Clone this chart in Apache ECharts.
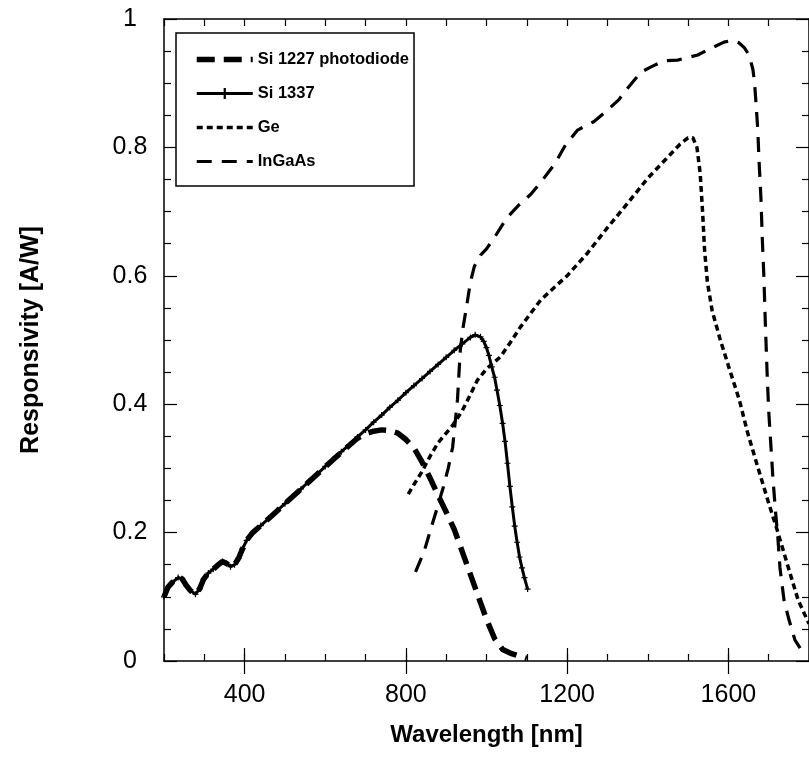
<!DOCTYPE html>
<html>
<head>
<meta charset="utf-8">
<script src="https://cdn.jsdelivr.net/npm/echarts@6/dist/echarts.min.js"></script>
<style>
html, body { margin: 0; padding: 0; background: #fff; }
#chart { width: 809px; height: 778px; }
</style>
</head>
<body>
<div id="chart"></div>
<script>
// wavelength [nm] / responsivity [A/W]
const si1337Wl = [200, 210, 220, 235, 245, 255, 265, 278, 288, 298, 310, 322, 335, 345, 355, 365, 375, 385, 395, 405,
  420, 440, 460, 480, 500, 520, 540, 560, 580, 600, 620, 640, 660, 680, 700, 720, 740, 760, 780, 800, 820, 840, 860, 880, 900, 920, 940, 960, 972, 985,
  993, 1000, 1006, 1013, 1020, 1026, 1033, 1040, 1046, 1052, 1058, 1064, 1070, 1076, 1082, 1088, 1094, 1102];
const si1337R = [0.100, 0.115, 0.122, 0.130, 0.128, 0.118, 0.110, 0.104, 0.112, 0.127, 0.137, 0.143, 0.150, 0.155, 0.152, 0.147, 0.150, 0.160, 0.175, 0.188,
  0.200, 0.211, 0.222, 0.234, 0.245, 0.257, 0.268, 0.280, 0.291, 0.303, 0.314, 0.326, 0.337, 0.349, 0.360, 0.372, 0.383, 0.395, 0.406, 0.418, 0.429, 0.440, 0.451, 0.462, 0.473, 0.484, 0.494, 0.504, 0.508, 0.505,
  0.498, 0.488, 0.476, 0.458, 0.442, 0.422, 0.398, 0.37, 0.342, 0.308, 0.272, 0.24, 0.21, 0.185, 0.162, 0.145, 0.13, 0.112];

const si1227Wl = [200, 210, 220, 235, 245, 255, 265, 278, 288, 298, 310, 322, 335, 345, 355, 365, 375, 385, 395, 405,
  420, 460, 500, 540, 580, 620, 660, 680, 700, 720, 740, 760, 780, 800, 820, 840, 860, 880, 900, 920, 940,
  960, 980, 1000, 1020, 1040, 1060, 1080, 1100];
const si1227R = [0.100, 0.115, 0.122, 0.130, 0.128, 0.118, 0.110, 0.104, 0.112, 0.127, 0.137, 0.143, 0.150, 0.155, 0.152, 0.147, 0.150, 0.160, 0.175, 0.188,
  0.200, 0.222, 0.245, 0.268, 0.291, 0.314, 0.336, 0.347, 0.354, 0.358, 0.360, 0.359, 0.355, 0.345, 0.332, 0.31, 0.285, 0.258, 0.232, 0.205, 0.17,
  0.135, 0.10, 0.065, 0.035, 0.018, 0.012, 0.008, 0.004];

const geWl = [806, 820, 840, 861, 880, 900, 916, 940, 960, 977, 1000, 1035, 1060, 1084, 1110, 1134, 1170, 1200, 1250, 1300,
  1350, 1400, 1450, 1480, 1500, 1512, 1522, 1530, 1536, 1541, 1548, 1560, 1580, 1600, 1627, 1648, 1673, 1698, 1723, 1748, 1773, 1800];
const geR = [0.26, 0.275, 0.295, 0.32, 0.34, 0.355, 0.367, 0.39, 0.415, 0.437, 0.455, 0.474, 0.497, 0.52, 0.542, 0.562, 0.583, 0.60, 0.635, 0.675,
  0.713, 0.752, 0.785, 0.805, 0.815, 0.815, 0.80, 0.76, 0.70, 0.64, 0.59, 0.545, 0.50, 0.46, 0.407, 0.355, 0.302, 0.25, 0.20, 0.147, 0.095, 0.058];

const ingaasWl = [824, 845, 861, 877, 893, 905, 916, 922, 928, 935, 942, 950, 960, 970, 985, 1000, 1020, 1050, 1080, 1110,
  1140, 1170, 1196, 1226, 1266, 1291, 1328, 1350, 1383, 1407, 1440, 1474, 1500, 1524, 1549, 1589, 1611, 1626, 1640, 1648,
  1655, 1661, 1665, 1668, 1673, 1676, 1681, 1684, 1688, 1692, 1696, 1700, 1705, 1710, 1716, 1723, 1728, 1738, 1750, 1765, 1780, 1795];
const ingaasR = [0.139, 0.17, 0.204, 0.237, 0.271, 0.30, 0.333, 0.37, 0.407, 0.484, 0.52, 0.55, 0.59, 0.615, 0.632, 0.642, 0.66, 0.69, 0.71, 0.727,
  0.75, 0.775, 0.804, 0.827, 0.84, 0.853, 0.874, 0.892, 0.917, 0.925, 0.935, 0.936, 0.94, 0.944, 0.952, 0.964, 0.967, 0.963, 0.955, 0.947,
  0.935, 0.921, 0.90, 0.874, 0.827, 0.78, 0.718, 0.66, 0.60, 0.52, 0.45, 0.39, 0.34, 0.29, 0.24, 0.19, 0.145, 0.095, 0.065, 0.033, 0.018, 0.01];

const xMajor = [400, 800, 1200, 1600];

const font = "'Liberation Sans', Arial, sans-serif";
const black = '#000';

function pairs(xs, ys) {
  return xs.map((x, i) => [x, ys[i]]);
}

const styles = {
  'Si 1227 photodiode': { color: black, width: 5.5, type: [18, 9] },
  'Si 1337': { color: black, width: 3, type: 'solid' },
  'Ge': { color: black, width: 3.5, type: [6, 4] },
  'InGaAs': { color: black, width: 3.2, type: [15, 10] }
};
const plus = 'path://M-1,-5L1,-5L1,-1L5,-1L5,1L1,1L1,5L-1,5L-1,1L-5,1L-5,-1L-1,-1Z';

const chart = echarts.init(document.getElementById('chart'));

const minorAxis = (pos) => ({
  type: 'value', position: pos, min: 200, max: 1800, interval: 100,
  axisLine: { show: true, onZero: false, lineStyle: { color: black, width: 1.5 } },
  axisTick: { show: true, inside: true, length: 7, lineStyle: { color: black, width: 1.2 } },
  axisLabel: { show: false },
  splitLine: { show: false }
});
const majorAxis = (pos, labels) => ({
  type: 'value', position: pos, min: 200, max: 1800,
  axisLine: { show: false },
  axisTick: { show: true, inside: true, length: 13, customValues: xMajor, lineStyle: { color: black, width: 1.2 } },
  axisLabel: { show: labels, customValues: xMajor, formatter: v => String(v), fontFamily: font, fontSize: 25, color: black, margin: 22 },
  splitLine: { show: false }
});

const yAxisDef = (pos, labels) => ({
  type: 'value', position: pos, min: 0, max: 1, interval: 0.2,
  axisLine: { show: true, onZero: false, lineStyle: { color: black, width: 1.5 } },
  axisTick: { show: true, inside: true, length: 13, lineStyle: { color: black, width: 1.2 } },
  minorTick: { show: true, splitNumber: 4, length: 7, lineStyle: { color: black, width: 1.2 } },
  axisLabel: { show: labels, fontFamily: font, fontSize: 25, color: black, margin: 34, align: 'center', showMinLabel: true, showMaxLabel: true },
  splitLine: { show: false },
  minorSplitLine: { show: false }
});

const bottomMajor = majorAxis('bottom', true);
bottomMajor.name = 'Wavelength [nm]';
bottomMajor.nameLocation = 'middle';
bottomMajor.nameGap = 62;
bottomMajor.nameTextStyle = { fontFamily: font, fontWeight: 'bold', fontSize: 24, color: black };

const leftY = yAxisDef('left', true);
leftY.name = 'Responsivity [A/W]';
leftY.nameLocation = 'middle';
leftY.nameGap = 120;
leftY.nameTextStyle = { fontFamily: font, fontWeight: 'bold', fontSize: 25, color: black };

const seriesNames = ['Si 1227 photodiode', 'Si 1337', 'Ge', 'InGaAs'];
const seriesData = [pairs(si1227Wl, si1227R), pairs(si1337Wl, si1337R), pairs(geWl, geR), pairs(ingaasWl, ingaasR)];

chart.setOption({
  animation: false,
  backgroundColor: '#fff',
  grid: { left: 164, right: 0, top: 19, bottom: 117, containLabel: false, outerBoundsMode: 'none' },
  xAxis: [minorAxis('bottom'), bottomMajor, minorAxis('top'), majorAxis('top', false)],
  yAxis: [leftY, yAxisDef('right', false)],
  legend: {
    orient: 'vertical', left: 176, top: 33,
    padding: [18, 5, 16, 18],
    itemGap: 17, itemWidth: 56, itemHeight: 14,
    borderColor: black, borderWidth: 1.5, backgroundColor: '#fff',
    textStyle: { fontFamily: font, fontWeight: 'bold', fontSize: 16.5, color: black },
    data: seriesNames.map(n => ({
      name: n,
      lineStyle: styles[n],
      itemStyle: n === 'Si 1337' ? { color: black } : { opacity: 0 }
    }))
  },
  series: seriesNames.map((n, i) => ({
    name: n,
    type: 'line',
    xAxisIndex: 0,
    yAxisIndex: 0,
    data: seriesData[i],
    showSymbol: n === 'Si 1337',
    showAllSymbol: true,
    symbol: n === 'Si 1337' ? plus : 'none',
    symbolSize: 6,
    itemStyle: { color: black },
    lineStyle: styles[n],
    z: 4 - i
  }))
});
</script>
</body>
</html>
